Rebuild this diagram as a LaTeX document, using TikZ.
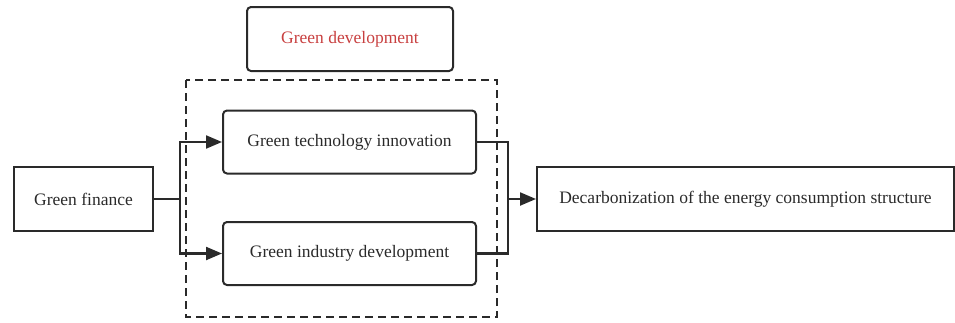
\documentclass[tikz,border=0pt]{standalone}
\usepackage{fontspec}
\setmainfont{Liberation Serif}
\usetikzlibrary{arrows.meta}
\definecolor{ln}{HTML}{2A2A2A}
\definecolor{redtxt}{HTML}{C84040}
\tikzset{
  box/.style={draw=ln, line width=2pt, inner sep=0pt, font=\fontsize{17.5}{20}\selectfont, text=ln},
  rbox/.style={box, rounded corners=4pt},
  conn/.style={draw=ln, line width=2.2pt},
  arr/.style={conn, -{Triangle[length=16pt,width=13pt]}},
}
\begin{document}
\begin{tikzpicture}[x=1pt,y=-1pt]
\useasboundingbox (0,0) rectangle (955,322);
\node[rbox, minimum width=206pt, minimum height=64pt, text=redtxt] (gd) at (350,39) {Green development};
\draw[ln, line width=1.6pt, dash pattern=on 8pt off 5pt] (186,80) rectangle (497,317);
\node[box, minimum width=139pt, minimum height=64pt] (gf) at (83.5,199) {Green finance};
\node[rbox, minimum width=253pt, minimum height=63pt] (ti) at (349.5,142) {Green technology innovation};
\node[rbox, minimum width=253pt, minimum height=63pt] (id) at (349.5,253.5) {Green industry development};
\node[box, minimum width=417pt, minimum height=64pt] (dc) at (745.5,199) {Decarbonization of the energy consumption structure};
\coordinate (sl) at (180,199);
\coordinate (sr) at (508,199);
\draw[conn] (gf.east) -- (sl);
\draw[arr] (sl) |- (ti.west);
\draw[arr] (sl) |- (id.west);
\draw[conn] (ti.east) -| (sr);
\draw[conn] (id.east) -| (sr);
\draw[arr] (sr) -- (dc.west);
\end{tikzpicture}
\end{document}
